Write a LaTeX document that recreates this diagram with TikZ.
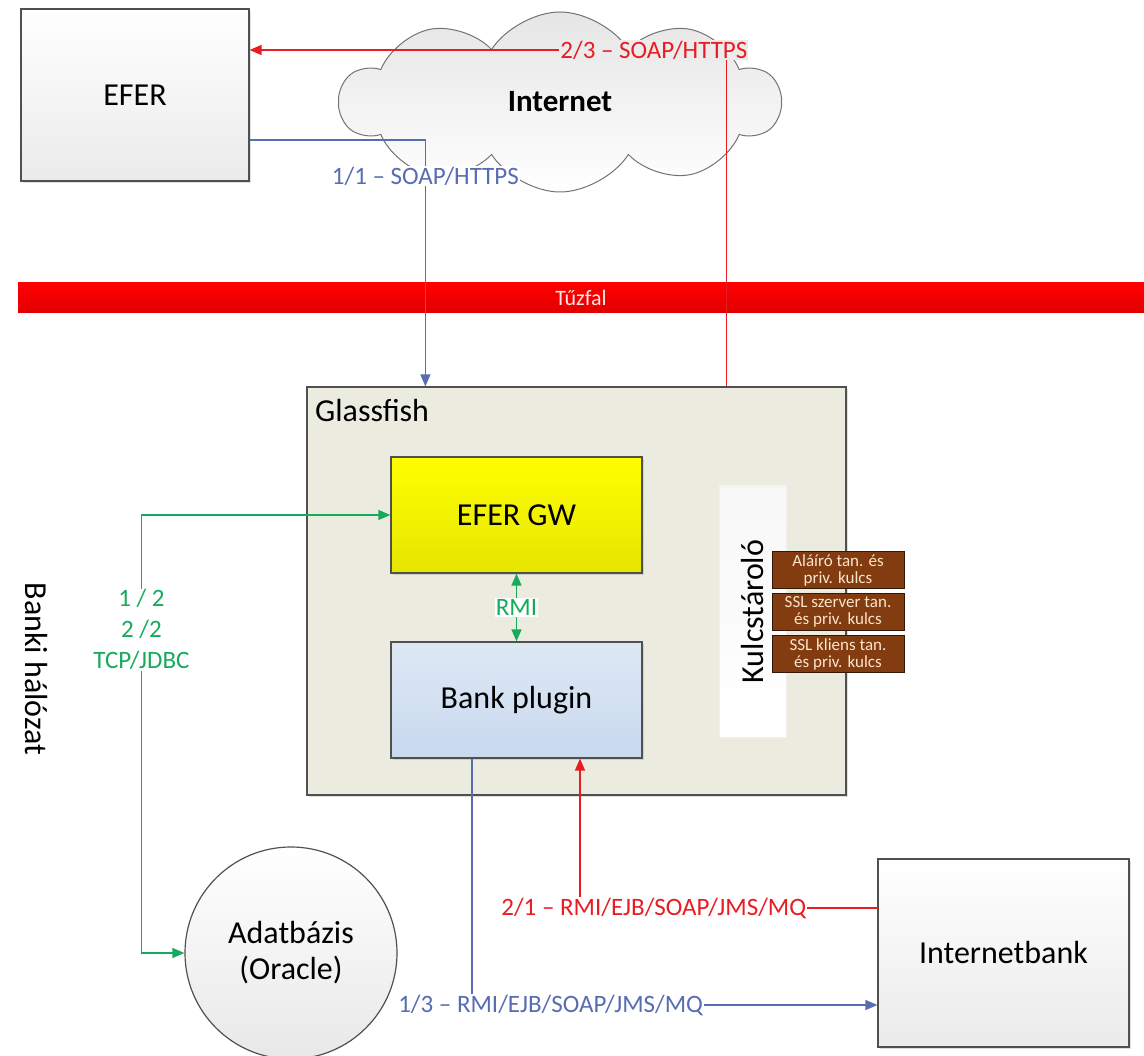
\documentclass[tikz,border=0pt]{standalone}
\usepackage{fontspec}
\setmainfont{Carlito}
\usetikzlibrary{arrows.meta,shapes.symbols,shadows}

\definecolor{linered}{RGB}{232,28,34}
\definecolor{lineblue}{RGB}{88,108,178}
\definecolor{linegreen}{RGB}{24,170,92}
\definecolor{gfgreen}{RGB}{235,236,223}
\definecolor{keybrown}{RGB}{130,60,15}
\definecolor{keytext}{RGB}{252,228,205}
\definecolor{frame}{RGB}{80,80,80}
\definecolor{gwyellow}{RGB}{255,255,0}
\definecolor{bpblue}{RGB}{200,217,238}

\tikzset{
  big/.style={font=\fontsize{32}{36}\selectfont},
  lbl/.style={font=\fontsize{25}{28}\selectfont, fill=white, inner sep=1pt},
  box/.style={draw=frame, line width=1.2pt, big,
    drop shadow={shadow xshift=2pt, shadow yshift=-2pt, opacity=0.25}},
  graybox/.style={box, top color=white, bottom color=black!8},
  keybox/.style={draw=black!60!keybrown, fill=keybrown, text=keytext, align=center,
    minimum width=132, minimum height=37, inner sep=0pt,
    font=\fontsize{17}{17}\selectfont},
  redline/.style={draw=linered, line width=1.4pt},
  blueline/.style={draw=lineblue, line width=1.4pt},
  greenline/.style={draw=linegreen, line width=1.4pt}
}

\begin{document}
\begin{tikzpicture}[x=1pt, y=-1pt, >={Triangle[length=12pt,width=10pt]}]
\useasboundingbox (0,0) rectangle (1144,1056);

\node[cloud, cloud puffs=10, cloud puff arc=115, cloud ignores aspect,
  minimum width=440, minimum height=180, draw=black!55, line width=1pt,
  top color=black!10, bottom color=white,
  font=\fontsize{31}{36}\selectfont\bfseries] (net) at (560,102) {Internet};
\node[graybox, minimum width=228, minimum height=172] (efer) at (135,95) {EFER};

\node[minimum width=1126, minimum height=30, inner sep=0pt,
  top color=red, bottom color=red!88!black, text=white!90!red,
  font=\fontsize{22}{24}\selectfont] (fw) at (581,298) {Tűzfal};

\node[box, fill=gfgreen, minimum width=539, minimum height=408] (gf) at (576.5,591) {};
\node[big, anchor=north west, inner sep=0pt] (gftitle) at (315,399) {Glassfish};
\node[box, top color=gwyellow, bottom color=gwyellow!90!black,
  minimum width=251, minimum height=116] (gw) at (516.5,515) {EFER GW};
\node[box, top color=bpblue!60!white, bottom color=bpblue,
  minimum width=251, minimum height=116] (bp) at (516.5,700) {Bank plugin};
\node[rotate=90, big, draw=black!6, top color=black!3, bottom color=white,
  minimum width=251, minimum height=67] (ks) at (752.5,611.5) {Kulcstároló};
\node[keybox] (k1) at (838,570) {Aláíró tan. és\\priv. kulcs};
\node[keybox] (k2) at (838,612) {SSL szerver tan.\\és priv. kulcs};
\node[keybox] (k3) at (838,654) {SSL kliens tan.\\és priv. kulcs};

\node[big, rotate=-90] (lan) at (36,669) {Banki hálózat};
\node[circle, draw=frame, line width=1.2pt, top color=white, bottom color=black!9,
  minimum size=212, align=center, big] (db) at (291,953) {Adatbázis\\(Oracle)};
\node[graybox, minimum width=251, minimum height=188] (ib) at (1003.5,953) {Internetbank};

\draw[redline,->] ([xshift=420pt]gf.north west) |- node[pos=0.576, lbl, fill=black!8, text=linered]
  {2/3 – SOAP/HTTPS} ([yshift=45pt]efer.east);
\draw[blueline,->] ([yshift=-45pt]efer.east) -| node[pos=0.573, lbl, text=lineblue]
  {1/1 – SOAP/HTTPS} ([xshift=119pt]gf.north west);
\draw[greenline,<->] (gw.west) -- ++(-249,0) |- node[pos=0.131, lbl, align=center, text=linegreen,
  font=\fontsize{25}{31}\selectfont] {1 / 2\\2 /2\\TCP/JDBC} (db.west);
\draw[greenline,<->] (gw.south) -- node[lbl, text=linegreen] {RMI} (bp.north);
\draw[redline,->] ([yshift=45pt]ib.west) -| node[pos=0.376, lbl, text=linered]
  {2/1 – RMI/EJB/SOAP/JMS/MQ} ([xshift=63.5pt]bp.south);
\draw[blueline,->] ([xshift=-44.5pt]bp.south) |- node[pos=0.597, lbl, text=lineblue]
  {1/3 – RMI/EJB/SOAP/JMS/MQ} ([yshift=-52pt]ib.west);
\end{tikzpicture}
\end{document}
